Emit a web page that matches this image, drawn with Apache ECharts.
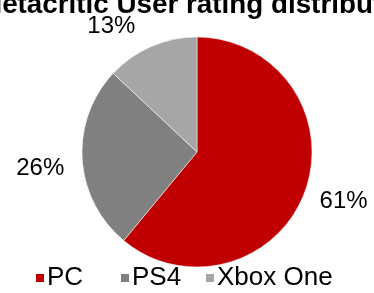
<!DOCTYPE html>
<html>
<head>
<meta charset="utf-8">
<script src="https://cdn.jsdelivr.net/npm/echarts@6/dist/echarts.min.js"></script>
<style>
  html, body { margin: 0; padding: 0; background: #fff; }
  #chart { width: 374px; height: 293px; }
</style>
</head>
<body>
<div id="chart"></div>
<script>
// share of Metacritic user ratings per platform (%)
var platforms = ['PC', 'PS4', 'Xbox One'];
var shares = [61, 26, 13];
var sliceColors = ['#C00000', '#808080', '#A6A6A6'];

// per-label nudges, Excel puts them a bit differently than echarts
var labelShift = [[0, 7], [-3, 9], [-7, -11]];

var myChart = echarts.init(document.getElementById('chart'));

// excel gives every legend entry the same slot, so one legend per entry
var legends = platforms.map(function (name, i) {
  return {
    data: [name],
    top: 265,
    left: 34 + 85 * i,
    padding: 0,
    icon: 'rect',
    itemWidth: 10,
    itemHeight: 10,
    textStyle: {
      fontSize: 26,
      color: '#000',
      padding: [0, 0, 0, -3]
    }
  };
});

myChart.setOption({
  animation: false,
  color: sliceColors,
  textStyle: { fontFamily: 'Liberation Sans' },
  title: {
    // title is wider than the canvas, it gets cut on both sides like in the original
    text: 'Metacritic User rating distribution',
    left: -21,
    top: -9,
    padding: 0,
    textStyle: {
      fontSize: 27.8,
      fontWeight: 'bold',
      color: '#000',
      fontFamily: 'Liberation Sans'
    }
  },
  legend: legends,
  series: [{
    type: 'pie',
    center: [197, 152],
    radius: 115,
    startAngle: 90,
    clockwise: true,
    itemStyle: { borderColor: '#fff', borderWidth: 0.5 },
    label: {
      show: true,
      position: 'outside',
      formatter: '{d}%',
      fontSize: 24,
      color: '#000',
      overflow: 'none',
      distanceToLabelLine: 5
    },
    labelLine: { show: false, length: 10, length2: 0 },
    labelLayout: function (params) {
      var s = labelShift[params.dataIndex];
      return { dx: s[0], dy: s[1] };
    },
    data: platforms.map(function (name, i) {
      return { name: name, value: shares[i] };
    })
  }]
});
</script>
</body>
</html>
